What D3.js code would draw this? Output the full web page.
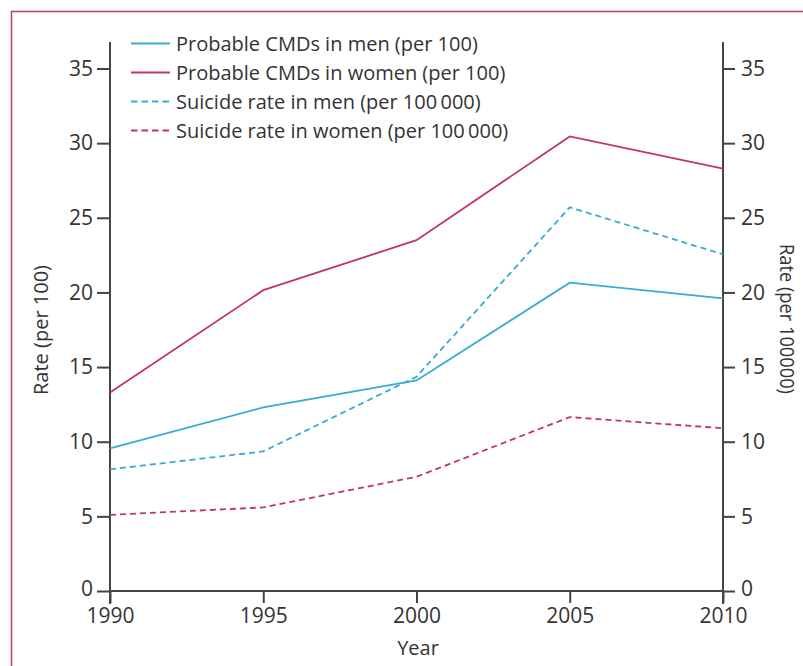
<!DOCTYPE html>
<html>
<head>
<meta charset="utf-8">
<script src="https://cdn.jsdelivr.net/npm/d3@7"></script>
<style>
html,body{margin:0;padding:0;background:#fff;}
svg{display:block;}
text{font-family:"Open Sans",sans-serif;fill:#333;}
</style>
</head>
<body>
<svg id="chart" width="803" height="666"></svg>
<script>
const years = [1990, 1995, 2000, 2005, 2010];
const cmdMen = [9.55, 12.3, 14.1, 20.65, 19.6];
const cmdWomen = [13.3, 20.15, 23.5, 30.45, 28.3];
const suicideMen = [8.15, 9.35, 14.35, 25.7, 22.55];
const suicideWomen = [5.1, 5.6, 7.65, 11.65, 10.9];
const yTicks = [0, 5, 10, 15, 20, 25, 30, 35];
const xTicks = [1990, 1995, 2000, 2005, 2010];
const seriesNames = [
  "Probable CMDs in men (per 100)",
  "Probable CMDs in women (per 100)",
  "Suicide rate in men (per 100\u2009000)",
  "Suicide rate in women (per 100\u2009000)"
];

const CYAN = "#36acd2", RED = "#c5345c", AXIS = "#444";
const series = [
  {name: seriesNames[0], values: cmdMen, color: CYAN, dash: null},
  {name: seriesNames[1], values: cmdWomen, color: RED, dash: null},
  {name: seriesNames[2], values: suicideMen, color: CYAN, dash: "6,4"},
  {name: seriesNames[3], values: suicideWomen, color: RED, dash: "6,4"}
];

const svg = d3.select("#chart");
// frame
svg.append("rect").attr("x", 11.5).attr("y", 11.5).attr("width", 820).attr("height", 700)
  .attr("fill", "none").attr("stroke", "#c8426c").attr("stroke-width", 1.6);

const x = d3.scaleLinear().domain([1990, 2010]).range([110, 723]);
const y = d3.scaleLinear().domain([0, 35]).range([591, 68.5]);

const FS = 20, TFS = 21;
const g = svg.append("g");

// left axis
const left = g.append("g").attr("transform", `translate(${x(1990)},0)`)
  .call(d3.axisLeft(y).tickValues(yTicks).tickSize(13).tickPadding(4).tickSizeOuter(0));
// right axis
const right = g.append("g").attr("transform", `translate(${x(2010)},0)`)
  .call(d3.axisRight(y).tickValues(yTicks).tickSize(12).tickPadding(6).tickSizeOuter(0));
// bottom axis
const bottom = g.append("g").attr("transform", `translate(0,${y(0)})`)
  .call(d3.axisBottom(x).tickValues(xTicks).tickFormat(d3.format("d")).tickSize(12).tickPadding(5).tickSizeOuter(0));

[left, right, bottom].forEach(a => {
  a.select(".domain").remove();
  a.selectAll("line").attr("stroke", AXIS).attr("stroke-width", 2);
  a.selectAll("text").attr("font-size", TFS).attr("font-family", "Open Sans, sans-serif").attr("fill", "#333");
});
// zero labels sit slightly above the baseline, as in the reference
left.selectAll(".tick text").filter(d => d === 0).attr("dy", "0.2em");
right.selectAll(".tick text").filter(d => d === 0).attr("dy", "0.2em");

// axis lines
g.append("line").attr("x1", x(1990)).attr("x2", x(1990)).attr("y1", 42).attr("y2", 604)
  .attr("stroke", AXIS).attr("stroke-width", 2);
g.append("line").attr("x1", x(2010)).attr("x2", x(2010)).attr("y1", 42).attr("y2", 604)
  .attr("stroke", AXIS).attr("stroke-width", 2);
g.append("line").attr("x1", x(1990)).attr("x2", x(2010)).attr("y1", y(0)).attr("y2", y(0))
  .attr("stroke", AXIS).attr("stroke-width", 2);

// lines
const line = d3.line().x((d, i) => x(years[i])).y(d => y(d));
series.forEach(s => {
  g.append("path").datum(s.values).attr("d", line)
    .attr("fill", "none").attr("stroke", s.color).attr("stroke-width", 1.8)
    .attr("stroke-dasharray", s.dash);
});

// legend
const legY0 = 43.5, legStep = 29;
series.forEach((s, i) => {
  const yy = legY0 + i * legStep;
  g.append("line").attr("x1", 131).attr("x2", 170).attr("y1", yy).attr("y2", yy)
    .attr("stroke", s.color).attr("stroke-width", 1.8)
    .attr("stroke-dasharray", s.dash ? "6.5,4" : null);
  g.append("text").attr("x", 176).attr("y", yy).attr("dy", "0.35em")
    .attr("font-size", FS).text(s.name);
});

// axis titles
g.append("text").attr("x", 418).attr("y", 655).attr("text-anchor", "middle")
  .attr("font-size", FS).text("Year");
g.append("text").attr("transform", "translate(48,330) rotate(-90)").attr("text-anchor", "middle")
  .attr("font-size", FS).text("Rate (per 100)");
g.append("text").attr("transform", "translate(780,319) rotate(90)").attr("text-anchor", "middle")
  .attr("font-size", FS).attr("textLength", 150).attr("lengthAdjust", "spacingAndGlyphs")
  .text("Rate (per 100000)");
</script>
</body>
</html>
